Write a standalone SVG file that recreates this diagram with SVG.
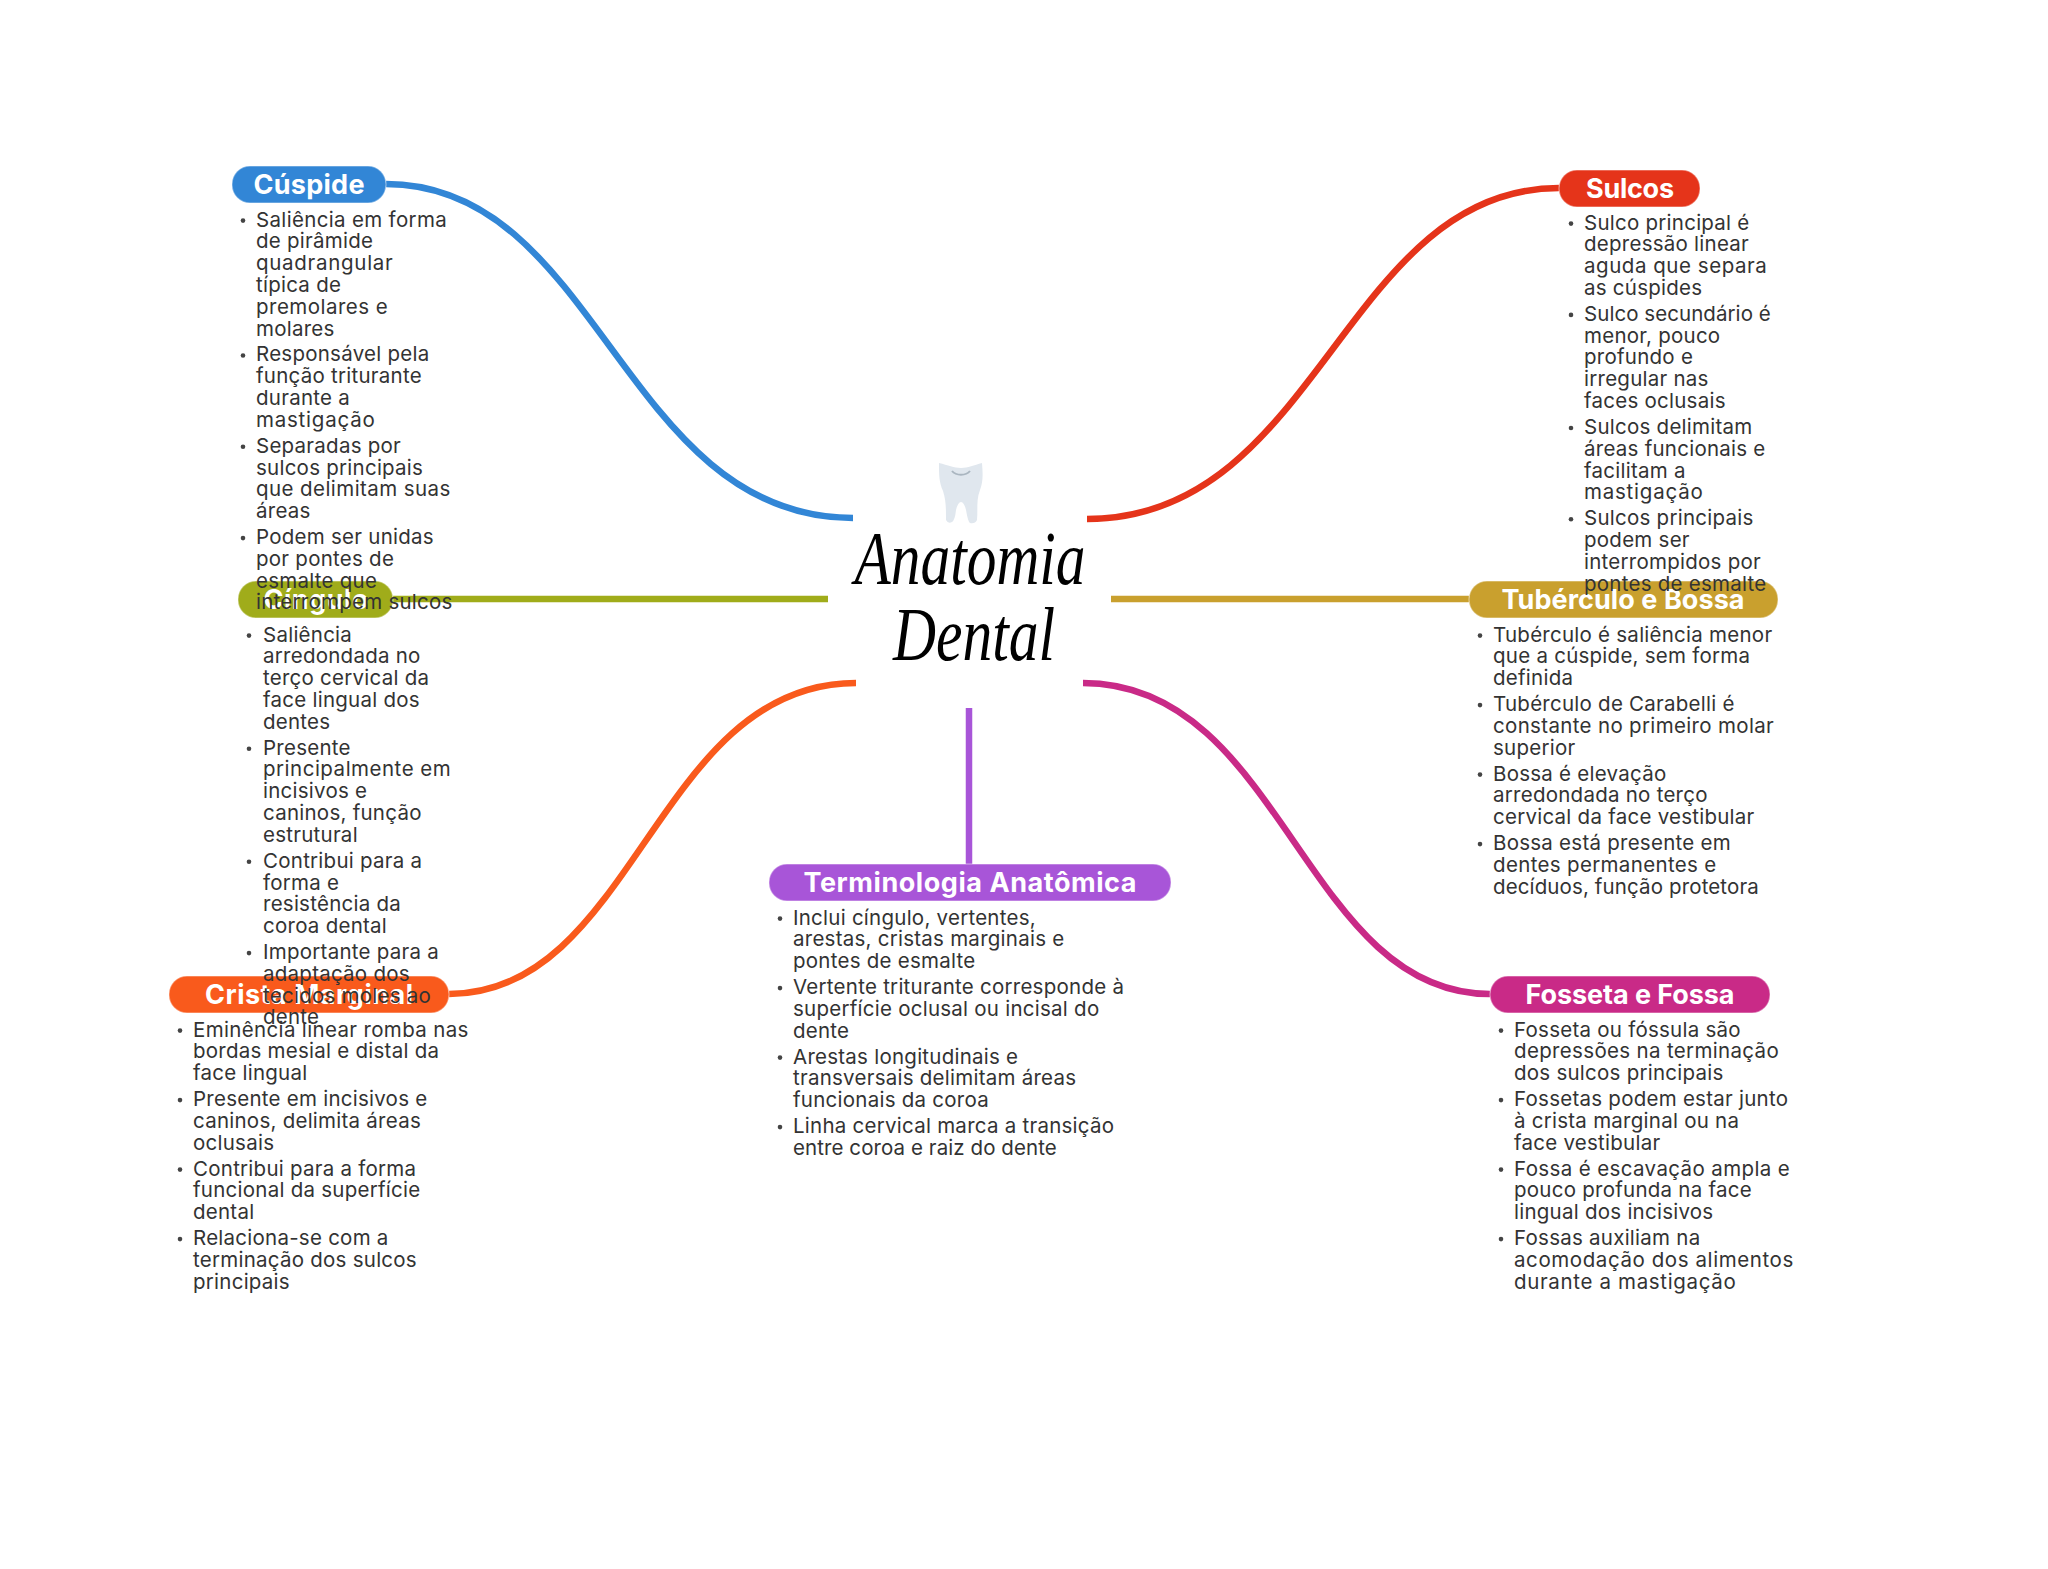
<svg xmlns="http://www.w3.org/2000/svg" width="2048" height="1569" viewBox="0 0 2048 1569">
<style>
.c{fill:none;stroke-width:6.5}
.p{stroke-width:1.5;stroke-opacity:.35;stroke:#fff}
.l{font-family:Inter,"Noto Sans",sans-serif;font-weight:700;font-size:27px;fill:#fff;text-anchor:middle}
.t{transform:translateY(.6px)}
.t text{font-family:Inter,"Noto Sans",sans-serif;font-size:20.5px;letter-spacing:.25px;fill:#333}
.t circle{fill:#444;r:2.3px}
.h{font-family:"Liberation Serif",serif;font-style:italic;font-size:76px;fill:#000;text-anchor:middle}
</style>
<rect width="2048" height="1569" fill="#fff"/>
<g id="connectors">
<path class="c" stroke="#3286d6" d="M386 184C599 184 623 518 853 518"/>
<path class="c" stroke="#e5341a" d="M1087 519C1319 519 1344 188 1559 188"/>
<path class="c" stroke="#a0ac1a" d="M393 599H828"/>
<path class="c" stroke="#c9a02e" d="M1111 599H1469"/>
<path class="c" stroke="#f95a1c" d="M856 683C656 683 635 994 449 994"/>
<path class="c" stroke="#c92a87" d="M1083 683C1283 683 1304 994 1490 994"/>
<path class="c" stroke="#a855d8" d="M969 708V864"/>
</g>
<g id="center">
<path fill="#e0e7ee" d="M939 463C948 465 954 468 961 468C968 468 974 465 982 463C983 475 983 482 980 490C976 500 978 510 977 520Q975 524 970 523Q968 522 966 510Q964 502 961 502Q958 502 956 510Q955 520 952 522Q948 524 946 520C946 508 946 500 943 491C939 482 939 475 939 463Z"/>
<path fill="none" stroke="#aab6c0" stroke-width="2" d="M952 471C956 476 966 476 970 471"/>
<text class="h" x="970" y="584" textLength="231" lengthAdjust="spacingAndGlyphs">Anatomia</text>
<text class="h" x="974" y="660" textLength="162" lengthAdjust="spacingAndGlyphs">Dental</text>
</g>
<g id="crista-marginal">
<rect class="p" x="169" y="976" width="280" height="37" rx="18" fill="#f95a1c"/>
<text class="l" x="309" y="1004" textLength="208">Crista Marginal</text>
<g class="t">
<circle cx="180" cy="1030" /><text x="193" y="1036" textLength="275.6">Eminência linear romba nas</text><text x="193" y="1057.8">bordas mesial e distal da</text><text x="193" y="1079.6">face lingual</text>
<circle cx="180" cy="1099.5" /><text x="193" y="1105.5">Presente em incisivos e</text><text x="193" y="1127.3">caninos, delimita áreas</text><text x="193" y="1149.1">oclusais</text>
<circle cx="180" cy="1169" /><text x="193" y="1175">Contribui para a forma</text><text x="193" y="1196.8">funcional da superfície</text><text x="193" y="1218.6">dental</text>
<circle cx="180" cy="1238.5" /><text x="193" y="1244.5">Relaciona-se com a</text><text x="193" y="1266.3">terminação dos sulcos</text><text x="193" y="1288.1">principais</text>
</g></g>
<g id="cingulo">
<rect class="p" x="238" y="581" width="155" height="37" rx="18" fill="#a0ac1a"/>
<text class="l" x="316" y="609" textLength="105">Cíngulo</text>
<g class="t">
<circle cx="249" cy="635" /><text x="263" y="641">Saliência</text><text x="263" y="662.8">arredondada no</text><text x="263" y="684.6">terço cervical da</text><text x="263" y="706.4">face lingual dos</text><text x="263" y="728.2">dentes</text>
<circle cx="249" cy="748.1" /><text x="263" y="754.1">Presente</text><text x="263" y="775.9" textLength="188">principalmente em</text><text x="263" y="797.7">incisivos e</text><text x="263" y="819.5">caninos, função</text><text x="263" y="841.3">estrutural</text>
<circle cx="249" cy="861.2" /><text x="263" y="867.2">Contribui para a</text><text x="263" y="889">forma e</text><text x="263" y="910.8">resistência da</text><text x="263" y="932.6">coroa dental</text>
<circle cx="249" cy="952.5" /><text x="263" y="958.5">Importante para a</text><text x="263" y="980.3">adaptação dos</text><text x="263" y="1002.1">tecidos moles ao</text><text x="263" y="1023.9">dente</text>
</g></g>
<g id="cuspide">
<rect class="p" x="232" y="166" width="154" height="37" rx="18" fill="#3286d6"/>
<text class="l" x="309" y="194" textLength="111">Cúspide</text>
<g class="t">
<circle cx="243" cy="220" /><text x="256" y="226" textLength="191">Saliência em forma</text><text x="256" y="247.8">de pirâmide</text><text x="256" y="269.6" textLength="137">quadrangular</text><text x="256" y="291.4">típica de</text><text x="256" y="313.2" textLength="132">premolares e</text><text x="256" y="335">molares</text>
<circle cx="243" cy="354.9" /><text x="256" y="360.9">Responsável pela</text><text x="256" y="382.7">função triturante</text><text x="256" y="404.5">durante a</text><text x="256" y="426.3" textLength="119">mastigação</text>
<circle cx="243" cy="446.2" /><text x="256" y="452.2">Separadas por</text><text x="256" y="474">sulcos principais</text><text x="256" y="495.8" textLength="194.6">que delimitam suas</text><text x="256" y="517.6">áreas</text>
<circle cx="243" cy="537.5" /><text x="256" y="543.5">Podem ser unidas</text><text x="256" y="565.3">por pontes de</text><text x="256" y="587.1">esmalte que</text><text x="256" y="608.9">interrompem sulcos</text>
</g></g>
<g id="tuberculo-bossa">
<rect class="p" x="1469" y="581" width="309" height="37" rx="18" fill="#c9a02e"/>
<text class="l" x="1623" y="609" textLength="243">Tubérculo e Bossa</text>
<g class="t">
<circle cx="1480" cy="635" /><text x="1493" y="641">Tubérculo é saliência menor</text><text x="1493" y="662.8">que a cúspide, sem forma</text><text x="1493" y="684.6">definida</text>
<circle cx="1480" cy="704.5" /><text x="1493" y="710.5">Tubérculo de Carabelli é</text><text x="1493" y="732.3" textLength="281">constante no primeiro molar</text><text x="1493" y="754.1">superior</text>
<circle cx="1480" cy="774" /><text x="1493" y="780">Bossa é elevação</text><text x="1493" y="801.8">arredondada no terço</text><text x="1493" y="823.6">cervical da face vestibular</text>
<circle cx="1480" cy="843.5" /><text x="1493" y="849.5">Bossa está presente em</text><text x="1493" y="871.3" textLength="223.5">dentes permanentes e</text><text x="1493" y="893.1" textLength="266">decíduos, função protetora</text>
</g></g>
<g id="sulcos">
<rect class="p" x="1559" y="170" width="141" height="37" rx="18" fill="#e5341a"/>
<text class="l" x="1630" y="198" textLength="88">Sulcos</text>
<g class="t">
<circle cx="1571" cy="223" /><text x="1584" y="229">Sulco principal é</text><text x="1584" y="250.8">depressão linear</text><text x="1584" y="272.6" textLength="183">aguda que separa</text><text x="1584" y="294.4">as cúspides</text>
<circle cx="1571" cy="314.3" /><text x="1584" y="320.3" textLength="187">Sulco secundário é</text><text x="1584" y="342.1">menor, pouco</text><text x="1584" y="363.9">profundo e</text><text x="1584" y="385.7">irregular nas</text><text x="1584" y="407.5">faces oclusais</text>
<circle cx="1571" cy="427.4" /><text x="1584" y="433.4">Sulcos delimitam</text><text x="1584" y="455.2">áreas funcionais e</text><text x="1584" y="477">facilitam a</text><text x="1584" y="498.8" textLength="119">mastigação</text>
<circle cx="1571" cy="518.7" /><text x="1584" y="524.7">Sulcos principais</text><text x="1584" y="546.5">podem ser</text><text x="1584" y="568.3">interrompidos por</text><text x="1584" y="590.1">pontes de esmalte</text>
</g></g>
<g id="terminologia">
<rect class="p" x="769" y="864" width="402" height="37" rx="18" fill="#a855d8"/>
<text class="l" x="970" y="892" textLength="333">Terminologia Anatômica</text>
<g class="t">
<circle cx="780" cy="918" /><text x="793" y="924">Inclui cíngulo, vertentes,</text><text x="793" y="945.8">arestas, cristas marginais e</text><text x="793" y="967.6">pontes de esmalte</text>
<circle cx="780" cy="987.5" /><text x="793" y="993.5">Vertente triturante corresponde à</text><text x="793" y="1015.3">superfície oclusal ou incisal do</text><text x="793" y="1037.1">dente</text>
<circle cx="780" cy="1057" /><text x="793" y="1063">Arestas longitudinais e</text><text x="793" y="1084.8">transversais delimitam áreas</text><text x="793" y="1106.6">funcionais da coroa</text>
<circle cx="780" cy="1126.5" /><text x="793" y="1132.5">Linha cervical marca a transição</text><text x="793" y="1154.3" textLength="264">entre coroa e raiz do dente</text>
</g></g>
<g id="fosseta-fossa">
<rect class="p" x="1490" y="976" width="280" height="37" rx="18" fill="#c92a87"/>
<text class="l" x="1630" y="1004" textLength="209">Fosseta e Fossa</text>
<g class="t">
<circle cx="1501" cy="1030" /><text x="1514" y="1036">Fosseta ou fóssula são</text><text x="1514" y="1057.8" textLength="265">depressões na terminação</text><text x="1514" y="1079.6">dos sulcos principais</text>
<circle cx="1501" cy="1099.5" /><text x="1514" y="1105.5">Fossetas podem estar junto</text><text x="1514" y="1127.3">à crista marginal ou na</text><text x="1514" y="1149.1">face vestibular</text>
<circle cx="1501" cy="1169" /><text x="1514" y="1175" textLength="276">Fossa é escavação ampla e</text><text x="1514" y="1196.8">pouco profunda na face</text><text x="1514" y="1218.6">lingual dos incisivos</text>
<circle cx="1501" cy="1238.5" /><text x="1514" y="1244.5">Fossas auxiliam na</text><text x="1514" y="1266.3" textLength="279.5">acomodação dos alimentos</text><text x="1514" y="1288.1" textLength="222">durante a mastigação</text>
</g></g>
</svg>
